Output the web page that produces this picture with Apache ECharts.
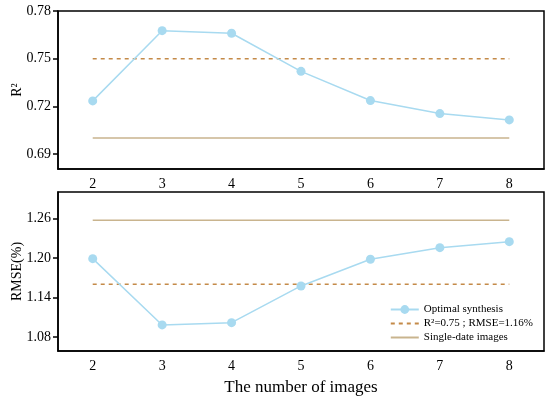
<!DOCTYPE html>
<html><head><meta charset="utf-8">
<script src="https://cdn.jsdelivr.net/npm/echarts@6/dist/echarts.min.js"></script>
<style>html,body{margin:0;padding:0;background:#fff}#c{width:550px;height:399px}</style>
</head><body><div id="c"></div>
<script>
const categories = ['2','3','4','5','6','7','8'];
const r2Optimal = [0.7234, 0.7676, 0.7660, 0.7420, 0.7236, 0.7154, 0.7114];
const r2Threshold = [0.75, 0.75, 0.75, 0.75, 0.75, 0.75, 0.75];
const r2Single = [0.700, 0.700, 0.700, 0.700, 0.700, 0.700, 0.700];
const rmseOptimal = [1.199, 1.0985, 1.102, 1.1576, 1.198, 1.2156, 1.2247];
const rmseThreshold = [1.16, 1.16, 1.16, 1.16, 1.16, 1.16, 1.16];
const rmseSingle = [1.257, 1.257, 1.257, 1.257, 1.257, 1.257, 1.257];
const r2Ticks = [0.69, 0.72, 0.75, 0.78];
const rmseTicks = [1.08, 1.14, 1.20, 1.26];

const names = ['Optimal synthesis', 'R\u00b2=0.75 ; RMSE=1.16%', 'Single-date images'];
const FONT = '"Liberation Serif", "Times New Roman", serif';
const blue = '#a8daf0', dash = '#c48a48', tan = '#c9b48e';

const chart = echarts.init(document.getElementById('c'));
function xAxis(i){
  return {type:'category', gridIndex:i, data:categories, boundaryGap:true,
    axisLine:{lineStyle:{color:'#000', width:1.5}},
    axisTick:{inside:true, length:5, alignWithLabel:true, lineStyle:{color:'#000', width:1.5}},
    axisLabel:{color:'#000', fontFamily:FONT, fontSize:14, margin:8},
    name: i===1 ? 'The number of images' : '', nameLocation:'middle', nameGap:28, nameMoveOverlap:false,
    nameTextStyle:{color:'#000', fontFamily:FONT, fontSize:17}};
}
function yAxis(i, min, max, ticks, name, dec){
  return {type:'value', gridIndex:i, min:min, max:max,
    axisLine:{show:true, lineStyle:{color:'#000', width:1.5}},
    axisTick:{show:true, inside:false, length:5, customValues:ticks, lineStyle:{color:'#000', width:1.5}},
    axisLabel:{color:'#000', fontFamily:FONT, fontSize:14, margin:7, customValues:ticks,
      formatter:v=>v.toFixed(dec)},
    splitLine:{show:false},
    name:name, nameLocation:'middle', nameGap:34, nameMoveOverlap:false,
    nameTextStyle:{color:'#000', fontFamily:FONT, fontSize:14}};
}
function lineS(name, data, i, kind){
  const s = {name:name, type:'line', xAxisIndex:i, yAxisIndex:i, data:data, animation:false, z: kind==='opt'?5:2};
  if(kind==='opt'){
    s.symbol='circle'; s.symbolSize=9; s.lineStyle={color:blue, width:1.5}; s.itemStyle={color:blue};
  } else if(kind==='dash'){
    s.symbol='none'; s.lineStyle={color:dash, width:1.5, type:[4,4]}; s.itemStyle={color:dash};
  } else {
    s.symbol='none'; s.lineStyle={color:tan, width:1.5}; s.itemStyle={color:tan};
  }
  return s;
}
chart.setOption({
  backgroundColor:'#fff',
  grid:[
    {left:58, top:11, width:486, height:158, show:true, borderColor:'#000', borderWidth:1.5, outerBoundsMode:'none', containLabel:false},
    {left:58, top:192, width:486, height:159, show:true, borderColor:'#000', borderWidth:1.5, outerBoundsMode:'none', containLabel:false}
  ],
  xAxis:[xAxis(0), xAxis(1)],
  yAxis:[yAxis(0, 0.6805, 0.78, r2Ticks, 'R\u00b2', 2), yAxis(1, 1.059, 1.30, rmseTicks, 'RMSE(%)', 2)],
  legend:{
    data:[
      {name:names[0]},
      {name:names[1], itemStyle:{color:'transparent', borderWidth:0}},
      {name:names[2], itemStyle:{color:'transparent', borderWidth:0}}
    ],
    orient:'vertical', right:12, top:299, itemGap:3, itemWidth:28, itemHeight:11,
    textStyle:{color:'#000', fontFamily:FONT, fontSize:11}},
  series:[
    lineS(names[0], r2Optimal, 0, 'opt'),
    lineS(names[1], r2Threshold, 0, 'dash'),
    lineS(names[2], r2Single, 0, 'solid'),
    lineS(names[0], rmseOptimal, 1, 'opt'),
    lineS(names[1], rmseThreshold, 1, 'dash'),
    lineS(names[2], rmseSingle, 1, 'solid')
  ]
});
</script></body></html>
